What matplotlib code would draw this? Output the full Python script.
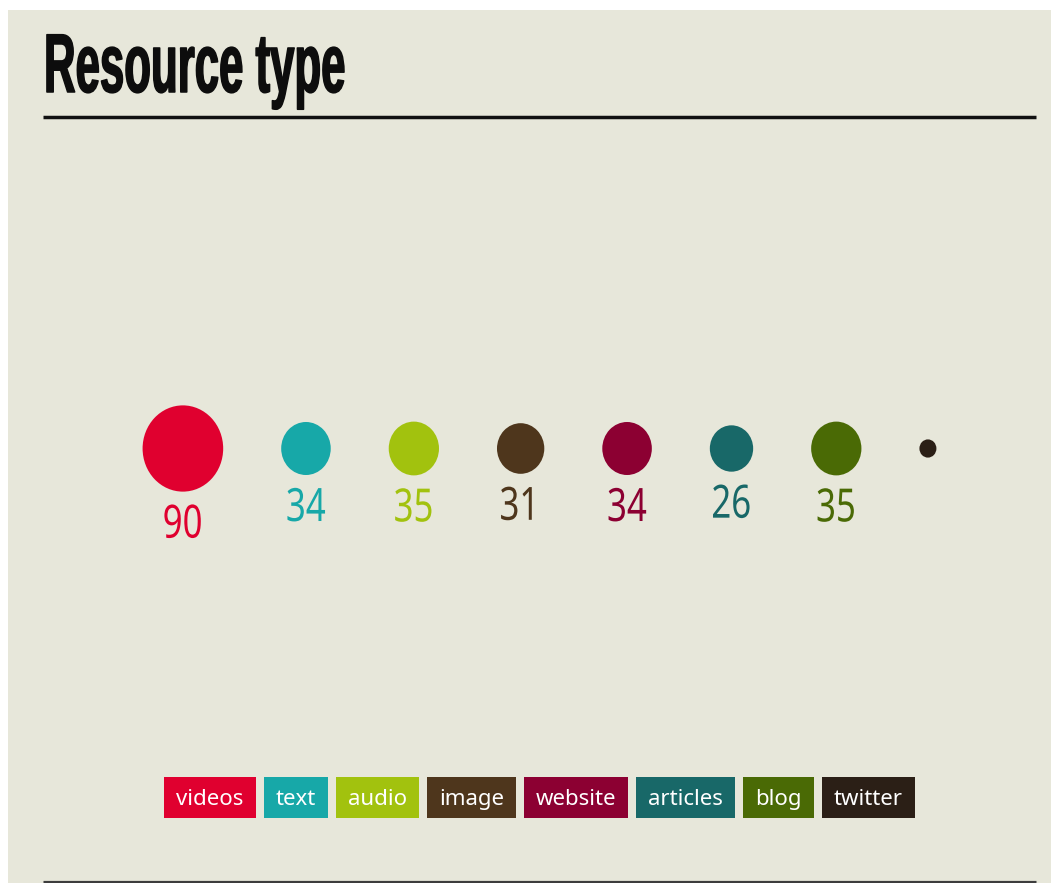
import matplotlib
matplotlib.use("Agg")
import matplotlib.pyplot as plt
import numpy as np
from matplotlib.patches import Ellipse, Rectangle
from matplotlib.patheffects import AbstractPathEffect
from matplotlib.transforms import Affine2D

# ---- data -------------------------------------------------------------
title = "Resource type"
categories = ["videos", "text", "audio", "image", "website", "articles", "blog", "twitter"]
counts = [90, 34, 35, 31, 34, 26, 35, 4]
show_count = [True, True, True, True, True, True, True, False]
colors = ["#E0002F", "#17A8A8", "#A2C20E", "#4E361C",
          "#8C0032", "#186868", "#4A6A05", "#2B1F16"]

BG = "#E7E7DA"
W, H = 1051, 883


class Condense(AbstractPathEffect):
    """Squeeze text glyphs horizontally (optionally thickening them)."""

    def __init__(self, sx, anchor="center", stroke=0.0):
        super().__init__()
        self.sx = sx
        self.anchor = anchor
        self.stroke = stroke

    def draw_path(self, renderer, gc, tpath, affine, rgbFace=None):
        xs = tpath.vertices[:, 0]
        x0, x1 = xs.min(), xs.max()
        if self.anchor == "left":
            squeeze = Affine2D().translate(-x0, 0).scale(self.sx, 1)
        else:
            c = 0.5 * (x0 + x1)
            squeeze = Affine2D().translate(-c, 0).scale(self.sx, 1).translate(c, 0)
        gc0 = renderer.new_gc()
        gc0.copy_properties(gc)
        if self.stroke:
            gc0.set_linewidth(self.stroke)
            gc0.set_foreground(rgbFace)
            gc0.set_joinstyle("round")
        renderer.draw_path(gc0, tpath, squeeze + affine, rgbFace)
        gc0.restore()


fig = plt.figure(figsize=(W / 100, H / 100), dpi=100, facecolor="white")
ax = fig.add_axes([0, 0, 1, 1])
ax.set_xlim(0, W)
ax.set_ylim(H, 0)
ax.axis("off")

# panel background
ax.add_patch(Rectangle((8, 10), W - 8, H - 10, facecolor=BG, edgecolor="none", zorder=0))

# title and rules
left, right = 43, 1036
ax.text(left + 1, 92, title, fontsize=60, fontweight="bold", family="Liberation Sans",
        color="#0d0d0d", ha="left", va="baseline",
        path_effects=[Condense(0.525, anchor="left", stroke=1.1)])
ax.plot([left, right], [116.5, 116.5], color="#111111", lw=2.5, solid_capstyle="butt")
ax.plot([left, right], [882, 882], color="#3d3d3d", lw=2.3, solid_capstyle="butt")

# ---- bubbles: area proportional to count, constant gap between edges ----
r_max = 40.3
stretch = 1.07
gap = 58
cy = 448.5
radii = r_max * np.sqrt(np.array(counts) / max(counts))
centers = np.zeros(len(radii))
for i in range(1, len(radii)):
    centers[i] = centers[i - 1] + radii[i - 1] + gap + radii[i]
span_mid = 0.5 * ((centers[0] - radii[0]) + (centers[-1] + radii[-1]))
centers += 0.5 * (left + right) - span_mid

for x, r, v, c, show in zip(centers, radii, counts, colors, show_count):
    ax.add_patch(Ellipse((x, cy), 2 * r, 2 * r * stretch, facecolor=c,
                         edgecolor="none", zorder=2))
    if show:
        ax.text(x, cy + r * stretch + 11, str(v), fontsize=33, family="Noto Sans",
                color=c, ha="center", va="top",
                path_effects=[Condense(0.76)])

# ---- legend row ----------------------------------------------------------
pad, lgap = 12, 8
box_top, box_h = 777, 41
renderer = fig.canvas.get_renderer()
labels = []
widths = []
for name in categories:
    t = ax.text(0, 805, name, fontsize=16, family="Noto Sans", color="white",
                ha="left", va="baseline", zorder=4)
    bb = t.get_window_extent(renderer)
    labels.append(t)
    widths.append(bb.width + 2 * pad)
total = sum(widths) + lgap * (len(widths) - 1)
x = 0.5 * (left + right) - total / 2
for t, w, c in zip(labels, widths, colors):
    ax.add_patch(Rectangle((x, box_top), w, box_h, facecolor=c, edgecolor="none", zorder=3))
    t.set_x(x + pad)
    x += w + lgap

fig.savefig("out.png", dpi=100, facecolor="white")
